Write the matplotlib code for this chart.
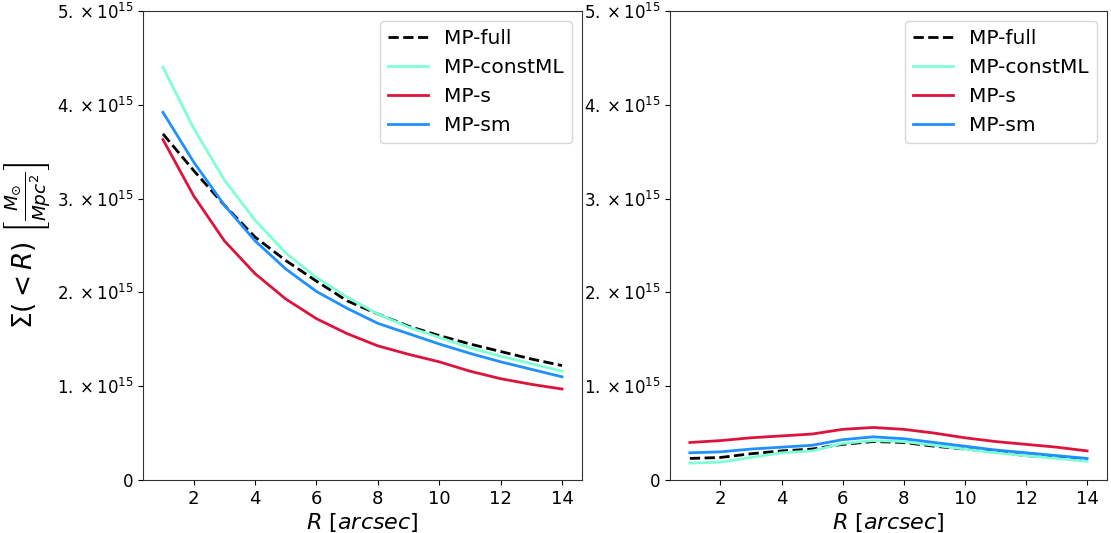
import matplotlib
matplotlib.use("Agg")
import matplotlib.pyplot as plt
from matplotlib.ticker import FuncFormatter

R = [1, 2, 3, 4, 5, 6, 7, 8, 9, 10, 11, 12, 13, 14]

# left panel (units of 1e15)
left_full    = [3.69, 3.30, 2.93, 2.59, 2.34, 2.12, 1.91, 1.77, 1.64, 1.54, 1.45, 1.37, 1.29, 1.22]
left_constML = [4.40, 3.75, 3.20, 2.77, 2.42, 2.16, 1.95, 1.77, 1.63, 1.52, 1.41, 1.32, 1.24, 1.16]
left_s       = [3.63, 3.03, 2.55, 2.20, 1.93, 1.72, 1.56, 1.43, 1.34, 1.26, 1.16, 1.08, 1.02, 0.97]
left_sm      = [3.92, 3.39, 2.93, 2.55, 2.25, 2.01, 1.83, 1.67, 1.56, 1.45, 1.35, 1.26, 1.18, 1.10]

# right panel (units of 1e15)
right_full    = [0.23, 0.24, 0.28, 0.31, 0.33, 0.38, 0.41, 0.40, 0.36, 0.33, 0.30, 0.26, 0.24, 0.21]
right_constML = [0.18, 0.19, 0.24, 0.29, 0.31, 0.39, 0.42, 0.41, 0.37, 0.33, 0.29, 0.26, 0.23, 0.20]
right_s       = [0.40, 0.42, 0.45, 0.47, 0.49, 0.54, 0.56, 0.54, 0.50, 0.45, 0.41, 0.38, 0.35, 0.31]
right_sm      = [0.29, 0.30, 0.33, 0.35, 0.37, 0.43, 0.46, 0.44, 0.40, 0.36, 0.32, 0.29, 0.26, 0.23]

labels = ["MP-full", "MP-constML", "MP-s", "MP-sm"]
SCALE = 1e15

W, H = 1111, 533
fig = plt.figure(figsize=(W / 100, H / 100), dpi=100)
axL = fig.add_axes([143 / W, 1 - 480 / H, (582 - 143) / W, (480 - 11) / H])
axR = fig.add_axes([670 / W, 1 - 480 / H, (1107 - 670) / W, (480 - 11) / H])


def fmt(v, pos):
    n = v / SCALE
    if abs(n) < 1e-9:
        return "0"
    return r"$%d.\times 10^{15}$" % round(n)


for ax, data in ((axL, (left_full, left_constML, left_s, left_sm)),
                 (axR, (right_full, right_constML, right_s, right_sm))):
    f, c, s, m = [[v * SCALE for v in d] for d in data]
    ax.plot(R, f, color="black", ls="--", lw=2, label=labels[0])
    ax.plot(R, c, color="aquamarine", lw=2, label=labels[1])
    ax.plot(R, s, color="crimson", lw=2, label=labels[2])
    ax.plot(R, m, color="dodgerblue", lw=2, label=labels[3])
    ax.set_ylim(0, 5 * SCALE)
    ax.set_yticks([i * SCALE for i in range(6)])
    ax.yaxis.set_major_formatter(FuncFormatter(fmt))
    ax.set_xticks([2, 4, 6, 8, 10, 12, 14])
    ax.tick_params(axis="x", labelsize=13)
    ax.tick_params(axis="y", labelsize=12)
    ax.set_xlabel(r"$R\ [arcsec]$", fontsize=16, labelpad=2)
    ax.legend(loc="upper right", fontsize=14.5)
    for sp in ax.spines.values():
        sp.set_color("#333333")

axL.set_ylabel(r"$\Sigma(<R)\ \left[\frac{M_{\odot}}{Mpc^2}\right]$", fontsize=19)
axL.yaxis.set_label_coords(-0.205, 0.5)

fig.savefig("out.png", dpi=100)
